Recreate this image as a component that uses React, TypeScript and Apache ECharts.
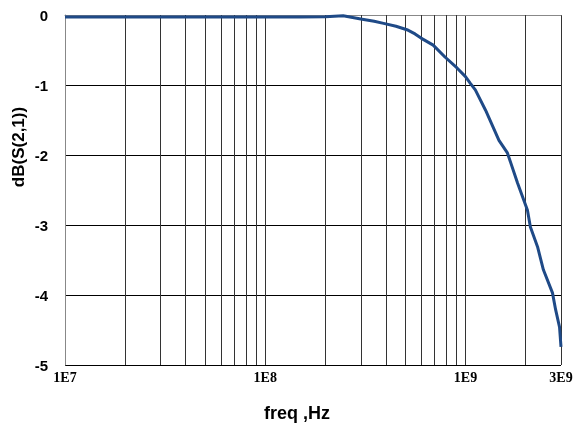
import React, { useRef, useEffect } from 'react';
import * as echarts from 'echarts';

// frequency points (Hz) and S21 magnitude (dB)
const freqs = [
  1e7, 2e7, 5e7, 1e8, 1.5e8, 2e8, 2.45e8, 3e8, 3.5e8, 3.9e8, 4.5e8, 5.1e8,
  5.6e8, 6e8, 6.9e8, 7.9e8, 9.1e8, 1e9, 1.06e9, 1.12e9, 1.26e9, 1.47e9,
  1.62e9, 1.82e9, 2.04e9, 2.11e9, 2.29e9, 2.45e9, 2.72e9, 2.82e9, 2.95e9, 3e9
];
const s21 = [
  -0.03, -0.03, -0.03, -0.03, -0.03, -0.025, -0.01, -0.057, -0.09, -0.12, -0.16, -0.21,
  -0.27, -0.33, -0.43, -0.6, -0.76, -0.88, -0.98, -1.07, -1.36, -1.79,
  -1.97, -2.4, -2.79, -3.03, -3.31, -3.64, -3.97, -4.21, -4.46, -4.74
];

// minor vertical grid lines (2..9 times each decade)
const minorGrid = [
  2e7, 3e7, 4e7, 5e7, 6e7, 7e7, 8e7, 9e7,
  2e8, 3e8, 4e8, 5e8, 6e8, 7e8, 8e8, 9e8,
  2e9
];

const xMin = 1e7;
const xMax = 3e9;
const yMin = -5;
const yMax = 0;

const fmtExp = (v: number) => {
  const e = Math.floor(Math.log10(v) + 1e-6);
  const m = Math.round(v / Math.pow(10, e));
  return `${m}E${e}`;
};

const App: React.FC = () => {
  const chartRef = useRef<HTMLDivElement>(null);

  useEffect(() => {
    if (!chartRef.current) return;
    const chart = echarts.init(chartRef.current, null, { renderer: 'svg' });

    chart.setOption({
      animation: false,
      grid: { left: 65, right: 26, top: 15, bottom: 71 },
      xAxis: {
        type: 'log',
        logBase: 10,
        min: xMin,
        max: xMax,
        axisLine: { show: true, lineStyle: { color: '#888', width: 1 } },
        axisTick: { show: false },
        axisLabel: {
          formatter: fmtExp,
          fontFamily: 'Liberation Serif',
          fontWeight: 'bold',
          fontSize: 14,
          color: '#000',
          margin: 5,
          showMinLabel: true,
          showMaxLabel: true
        },
        splitLine: { show: true, lineStyle: { color: '#333', width: 1 } }
      },
      yAxis: {
        type: 'value',
        min: yMin,
        max: yMax,
        interval: 1,
        axisLine: { show: true, lineStyle: { color: '#888', width: 1 } },
        axisTick: { show: false },
        axisLabel: {
          fontFamily: 'Liberation Sans',
          fontWeight: 'bold',
          fontSize: 15,
          color: '#000',
          margin: 17
        },
        splitLine: { show: true, lineStyle: { color: '#000', width: 1 } }
      },
      graphic: [
        {
          type: 'text',
          x: 18,
          y: 147,
          rotation: Math.PI / 2,
          style: {
            text: 'dB(S(2,1))',
            fontFamily: 'Liberation Sans',
            fontWeight: 'bold',
            fontSize: 17,
            fill: '#000',
            align: 'center',
            verticalAlign: 'middle'
          }
        },
        {
          type: 'text',
          x: 297,
          y: 413,
          style: {
            text: 'freq ,Hz',
            fontFamily: 'Liberation Sans',
            fontWeight: 'bold',
            fontSize: 18,
            fill: '#000',
            align: 'center',
            verticalAlign: 'middle'
          }
        }
      ],
      series: [
        {
          type: 'line',
          data: [],
          z: 1,
          silent: true,
          markLine: {
            silent: true,
            symbol: 'none',
            label: { show: false },
            lineStyle: { color: '#333', width: 1, type: 'solid' },
            data: minorGrid.map((f) => ({ xAxis: f }))
          }
        },
        {
          type: 'line',
          z: 5,
          data: freqs.map((f, i) => [f, s21[i]]),
          showSymbol: false,
          symbol: 'none',
          lineStyle: { color: '#1f4a87', width: 3 },
          itemStyle: { color: '#1f4a87' }
        }
      ]
    });

    return () => {
      chart.dispose();
    };
  }, []);

  return (
    <div
      ref={chartRef}
      style={{ position: 'fixed', left: 0, top: 0, width: 587, height: 436 }}
    />
  );
};

export default App;
